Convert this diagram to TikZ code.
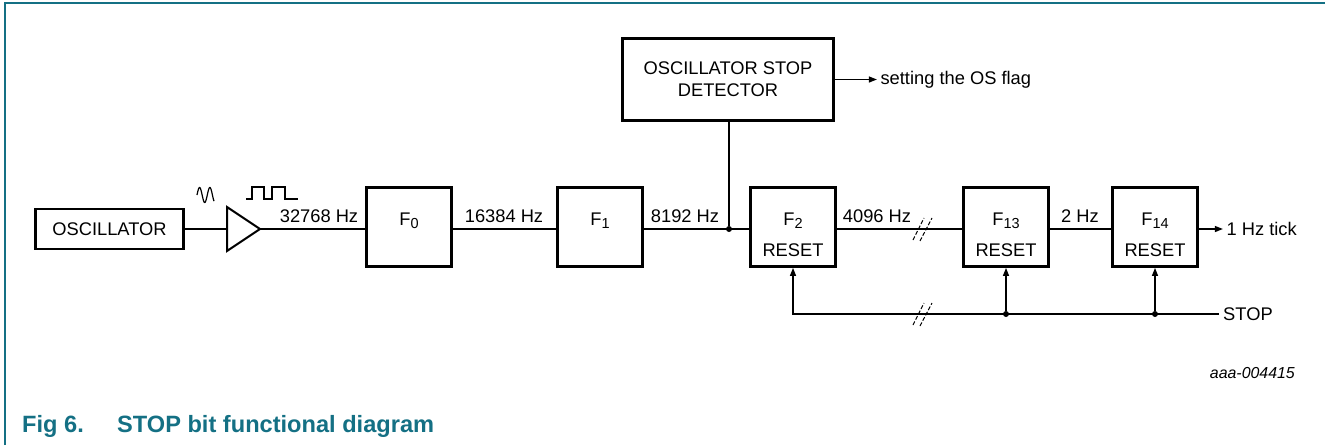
\documentclass[tikz,border=0pt]{standalone}
\usepackage{fontspec}
\setmainfont{Liberation Sans}
\usetikzlibrary{arrows.meta}
\definecolor{nxpteal}{RGB}{20,112,132}
\newcommand{\fsub}[1]{\raisebox{-0.35ex}{\fontsize{14.5}{14.5}\selectfont #1}}
\tikzset{
  block/.style={draw, line width=2.8pt, minimum width=85pt, minimum height=79pt, inner sep=0pt},
  wire/.style={line width=1.3pt},
  sig/.style={wire, -{Triangle[length=8pt,width=6pt]}},
  brk/.style={line width=1pt, dash pattern=on 4pt off 2pt},
  lbl/.style={anchor=base, inner sep=0pt},
  jdot/.style={circle, fill, inner sep=0pt, minimum size=6pt},
}

\begin{document}
\begin{tikzpicture}[x=1pt,y=-1pt,font=\fontsize{18.3}{22}\selectfont]
\useasboundingbox (0,0) rectangle (1325,445);
\draw[nxpteal, line width=2pt] (5,445) -- (5,3) -- (1325,3);

\node[draw, line width=2.8pt, minimum width=148pt, minimum height=40pt] (osc) at (109.5,229) {OSCILLATOR};
\coordinate (bufin) at (227,229);
\coordinate (bufout) at (260,229);
\draw[line width=2pt, line join=miter] (227,207) -- (bufout) -- (227,251) -- cycle;
\draw[line width=1.2pt] plot[domain=0:17, samples=60, smooth] ({197+\x}, {195-7.5*sin(\x*35)});
\draw[line width=1.2pt] (246,199) -- (252,199) -- (252,187) -- (264,187) -- (264,199) -- (272,199) -- (272,187) -- (285,187) -- (285,199) -- (298,199);

\node[block] (f0) at (409,227) {};
\node[block] (f1) at (600,227) {};
\node[block] (f2) at (793,227) {};
\node[block] (f13) at (1006,227) {};
\node[block] (f14) at (1155,227) {};
\node[lbl] (f0txt) at (409,225.5) {F\fsub{0}};
\node[lbl] (f1txt) at (600,225.5) {F\fsub{1}};
\node[lbl] (f2txt) at (793,225.5) {F\fsub{2}};
\node[lbl] (f13txt) at (1006,225.5) {F\fsub{13}};
\node[lbl] (f14txt) at (1155,225.5) {F\fsub{14}};
\node[lbl] (f2rst) at (793,256.5) {RESET};
\node[lbl] (f13rst) at (1006,256.5) {RESET};
\node[lbl] (f14rst) at (1155,256.5) {RESET};

\node[draw, line width=2.8pt, minimum width=211pt, minimum height=82pt, align=center] (det) at (728,79.5) {OSCILLATOR STOP\\DETECTOR};
\node[jdot] (jn) at (729,229) {};

\draw[wire] (osc.east |- bufin) -- (bufin);
\draw[wire] (bufout) -- (bufout -| f0.west);
\draw[wire] (f0.east |- bufout) -- (f1.west |- bufout);
\draw[wire] (f1.east |- bufout) -- (f2.west |- bufout);
\draw[wire] (f2.east |- bufout) -- (f13.west |- bufout);
\draw[wire] (f13.east |- bufout) -- (f14.west |- bufout);
\draw[wire] (jn) -- (jn |- det.south);
\draw[sig] (f14.east |- bufout) -- ++(24,0) node[right, inner sep=3pt] (tick) {1 Hz tick};
\draw[sig] (det.east) -- ++(42,0) node[right, inner sep=3pt] (osflag) {setting the OS flag};

\node[lbl] (hz0) at (319,222) {32768 Hz};
\node[lbl] (hz1) at (504,222) {16384 Hz};
\node[lbl] (hz2) at (685,222) {8192 Hz};
\node[lbl] (hz3) at (877,222) {4096 Hz};
\node[lbl] (hz4) at (1080,222) {2 Hz};

\coordinate (stopend) at (1219,314);
\node[anchor=west, inner sep=0pt] (stop) at (1223,314) {STOP};
\node[jdot] (d13) at (f13 |- stopend) {};
\node[jdot] (d14) at (f14 |- stopend) {};
\draw[sig] (stopend) -- (f2 |- stopend) -- (f2.south);
\draw[sig] (d13) -- (f13.south);
\draw[sig] (d14) -- (f14.south);

\foreach \y in {229,314} {
  \draw[brk] (913,\y+11) -- (924,\y-11);
  \draw[brk] (920,\y+12) -- (932,\y-11);
}

\node[anchor=base east, inner sep=0pt, font=\fontsize{15.9}{18}\selectfont\itshape] (ref) at (1295,378) {aaa-004415};
\node[anchor=base west, inner sep=0pt, text=nxpteal, font=\fontsize{23.6}{28}\selectfont\bfseries] (fig) at (22,432) {Fig 6.};
\node[anchor=base west, inner sep=0pt, text=nxpteal, font=\fontsize{23.6}{28}\selectfont\bfseries] (cap) at (117,432) {STOP bit functional diagram};
\end{tikzpicture}
\end{document}
